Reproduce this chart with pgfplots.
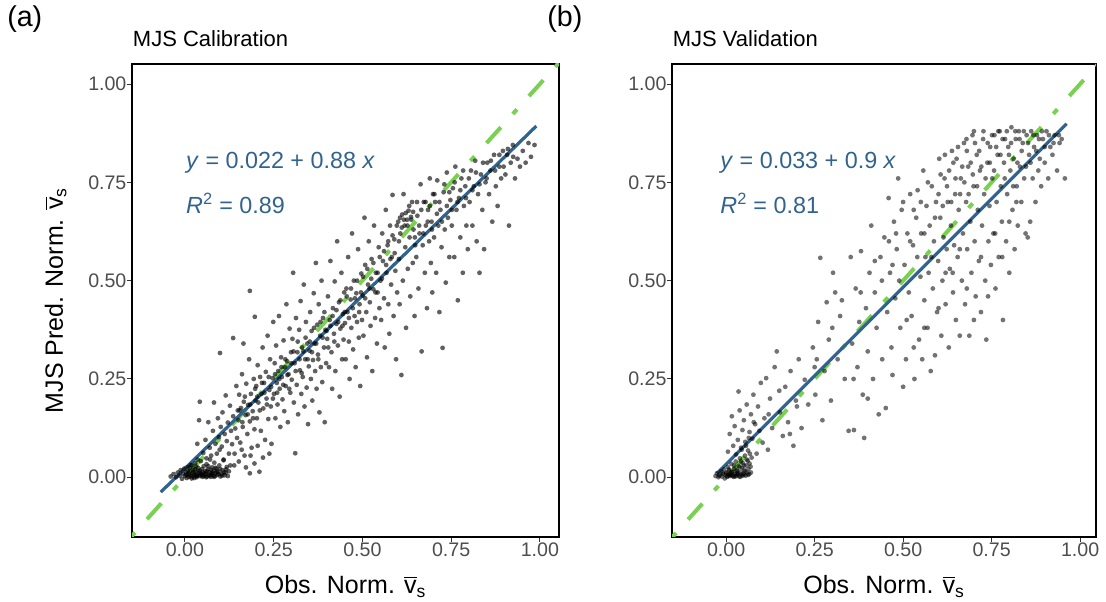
\documentclass[border=0pt]{standalone}
\usepackage{fontspec}
\setmainfont{Liberation Sans}
\usepackage{amsmath}
\usepackage{pgfplots}
\pgfplotsset{compat=1.18}
\usepackage{pgfplotstable}
\definecolor{fitblue}{HTML}{30638E}
\definecolor{refgreen}{HTML}{7AD151}
\definecolor{tickgray}{HTML}{4D4D4D}

\pgfplotstableread{
x y
-0.040 0.002
-0.032 0.008
-0.025 0.000
-0.020 0.012
-0.015 0.004
-0.012 0.018
-0.008 -0.004
-0.005 0.009
-0.002 0.022
0.000 0.003
0.003 0.013
0.005 -0.002
0.007 0.007
0.009 0.026
0.011 0.001
0.013 0.015
0.015 0.005
0.017 0.031
0.019 -0.003
0.021 0.010
0.023 0.019
0.025 0.002
0.027 0.008
0.029 0.036
0.031 0.014
0.033 0.000
0.035 0.006
0.037 0.024
0.039 0.011
0.041 0.003
0.043 0.017
0.045 0.041
0.047 0.007
0.049 0.001
0.051 0.012
0.053 0.028
0.055 0.004
0.057 0.016
0.059 0.009
0.061 0.033
0.063 0.002
0.065 0.020
0.067 0.006
0.069 0.013
0.071 0.045
0.073 0.001
0.075 0.010
0.077 0.025
0.079 0.005
0.081 0.016
0.083 0.037
0.085 0.003
0.087 0.011
0.089 0.022
0.091 0.006
0.094 0.014
0.097 0.030
0.100 0.002
0.103 0.009
0.106 0.018
0.109 0.043
0.112 0.005
0.115 0.012
0.118 0.026
0.121 0.003
0.124 0.015
0.030 0.004
0.045 0.010
0.060 0.000
0.075 0.007
0.004 0.006
0.012 0.009
0.018 0.002
0.024 0.013
0.028 0.020
0.034 0.003
0.038 0.016
0.044 0.006
0.048 0.021
0.052 0.003
0.056 0.010
0.062 0.015
0.066 0.028
0.070 0.004
0.074 0.019
0.078 0.012
0.082 0.001
0.086 0.024
0.090 0.014
0.095 0.008
0.099 0.021
0.105 0.004
0.110 0.012
0.116 0.020
0.008 0.016
0.014 0.024
0.020 0.030
0.026 -0.002
0.032 0.027
0.036 0.045
0.128 0.030
0.140 0.060
0.152 0.040
0.160 0.070
0.172 0.025
0.185 0.055
0.196 0.035
0.205 0.080
0.220 0.050
0.238 0.060
0.052 0.062
0.058 0.095
0.061 0.048
0.066 0.140
0.070 0.075
0.074 0.055
0.079 0.118
0.082 0.190
0.086 0.085
0.090 0.060
0.093 0.150
0.096 0.102
0.098 0.070
0.040 0.145
0.035 0.085
0.042 0.192
0.101 0.128
0.104 0.078
0.106 0.165
0.109 0.045
0.112 0.110
0.115 0.208
0.118 0.092
0.121 0.139
0.124 0.060
0.127 0.182
0.130 0.118
0.133 0.084
0.136 0.155
0.139 0.030
0.142 0.124
0.145 0.232
0.147 0.100
0.149 0.170
0.099 0.316
0.136 0.354
0.151 0.145
0.153 0.210
0.156 0.088
0.158 0.176
0.161 0.262
0.163 0.128
0.166 0.192
0.168 0.055
0.171 0.158
0.173 0.238
0.176 0.110
0.178 0.184
0.181 0.300
0.183 0.142
0.186 0.212
0.188 0.075
0.191 0.168
0.194 0.250
0.196 0.122
0.199 0.195
0.183 0.474
0.197 0.408
0.183 0.010
0.165 0.340
0.201 0.232
0.203 0.150
0.205 0.285
0.207 0.190
0.210 0.014
0.212 0.255
0.214 0.118
0.216 0.212
0.219 0.330
0.221 0.175
0.223 0.240
0.226 0.095
0.228 0.268
0.230 0.200
0.233 0.360
0.235 0.148
0.238 0.222
0.240 0.300
0.242 0.180
0.244 0.085
0.247 0.252
0.249 0.395
0.251 0.212
0.253 0.290
0.255 0.150
0.257 0.335
0.259 0.240
0.261 0.185
0.263 0.270
0.265 0.410
0.267 0.225
0.269 0.128
0.271 0.305
0.273 0.255
0.275 0.198
0.278 0.348
0.280 0.168
0.282 0.280
0.284 0.232
0.286 0.440
0.288 0.295
0.290 0.140
0.292 0.262
0.295 0.378
0.297 0.215
0.299 0.318
0.301 0.248
0.303 0.352
0.305 0.520
0.307 0.190
0.309 0.290
0.311 0.061
0.313 0.405
0.315 0.235
0.317 0.318
0.319 0.160
0.322 0.375
0.324 0.272
0.326 0.448
0.328 0.212
0.330 0.330
0.332 0.255
0.335 0.490
0.337 0.180
0.339 0.300
0.341 0.395
0.343 0.228
0.345 0.340
0.347 0.135
0.349 0.282
0.351 0.322
0.353 0.420
0.355 0.250
0.357 0.372
0.359 0.195
0.361 0.298
0.363 0.468
0.365 0.340
0.367 0.270
0.369 0.545
0.371 0.225
0.373 0.388
0.375 0.312
0.377 0.440
0.379 0.165
0.381 0.360
0.383 0.280
0.385 0.500
0.387 0.242
0.389 0.405
0.392 0.330
0.394 0.140
0.396 0.375
0.398 0.290
0.401 0.352
0.403 0.460
0.406 0.280
0.408 0.400
0.410 0.550
0.413 0.318
0.415 0.225
0.417 0.430
0.420 0.365
0.422 0.498
0.424 0.270
0.427 0.390
0.429 0.600
0.431 0.335
0.434 0.445
0.436 0.205
0.438 0.378
0.441 0.520
0.443 0.300
0.445 0.415
0.447 0.350
0.449 0.470
0.451 0.392
0.453 0.300
0.455 0.480
0.458 0.420
0.460 0.560
0.462 0.345
0.464 0.250
0.467 0.452
0.469 0.380
0.471 0.620
0.474 0.325
0.476 0.500
0.478 0.410
0.481 0.280
0.483 0.468
0.485 0.395
0.488 0.580
0.490 0.355
0.492 0.440
0.494 0.232
0.497 0.518
0.499 0.400
0.501 0.462
0.503 0.360
0.506 0.660
0.508 0.540
0.511 0.420
0.513 0.305
0.516 0.490
0.518 0.600
0.521 0.445
0.523 0.385
0.526 0.555
0.528 0.270
0.531 0.478
0.533 0.640
0.536 0.405
0.538 0.520
0.541 0.340
0.543 0.470
0.546 0.585
0.548 0.430
0.551 0.500
0.553 0.400
0.556 0.620
0.558 0.550
0.561 0.455
0.563 0.330
0.566 0.680
0.568 0.520
0.571 0.590
0.573 0.440
0.576 0.365
0.578 0.640
0.581 0.490
0.583 0.560
0.585 0.718
0.588 0.410
0.590 0.605
0.593 0.525
0.595 0.300
0.598 0.470
0.601 0.650
0.603 0.555
0.605 0.440
0.607 0.620
0.610 0.260
0.612 0.668
0.614 0.500
0.616 0.720
0.619 0.640
0.621 0.585
0.623 0.380
0.626 0.655
0.628 0.530
0.630 0.678
0.633 0.610
0.635 0.460
0.637 0.662
0.640 0.700
0.642 0.545
0.644 0.630
0.647 0.410
0.649 0.590
0.652 0.560
0.655 0.665
0.658 0.480
0.661 0.620
0.664 0.745
0.667 0.320
0.670 0.590
0.673 0.700
0.676 0.520
0.679 0.640
0.682 0.430
0.685 0.680
0.688 0.600
0.690 0.760
0.693 0.545
0.695 0.650
0.697 0.470
0.699 0.720
0.702 0.610
0.705 0.700
0.708 0.520
0.711 0.755
0.714 0.640
0.717 0.420
0.720 0.680
0.723 0.585
0.726 0.329
0.729 0.725
0.732 0.630
0.735 0.495
0.738 0.775
0.741 0.660
0.745 0.560
0.748 0.705
0.752 0.640
0.755 0.735
0.759 0.560
0.762 0.790
0.765 0.680
0.769 0.450
0.772 0.710
0.776 0.610
0.779 0.760
0.783 0.520
0.786 0.690
0.790 0.740
0.793 0.640
0.797 0.580
0.802 0.700
0.806 0.780
0.810 0.640
0.814 0.740
0.818 0.805
0.822 0.600
0.826 0.720
0.830 0.520
0.834 0.770
0.838 0.680
0.843 0.580
0.847 0.750
0.852 0.800
0.857 0.720
0.861 0.780
0.866 0.650
0.871 0.820
0.876 0.740
0.881 0.690
0.886 0.790
0.891 0.760
0.896 0.830
0.903 0.770
0.908 0.820
0.913 0.640
0.918 0.800
0.924 0.845
0.930 0.760
0.937 0.810
0.944 0.790
0.952 0.830
0.960 0.800
0.968 0.850
0.975 0.815
0.985 0.845
0.154 0.170
0.162 0.140
0.169 0.205
0.177 0.160
0.184 0.185
0.192 0.150
0.198 0.225
0.204 0.205
0.211 0.170
0.217 0.240
0.224 0.215
0.231 0.185
0.236 0.255
0.243 0.230
0.248 0.200
0.254 0.262
0.260 0.215
0.266 0.250
0.272 0.280
0.277 0.235
0.283 0.300
0.289 0.260
0.294 0.225
0.300 0.290
0.306 0.320
0.312 0.270
0.318 0.345
0.323 0.300
0.329 0.265
0.334 0.320
0.340 0.355
0.346 0.300
0.352 0.345
0.358 0.318
0.364 0.380
0.370 0.340
0.376 0.300
0.382 0.395
0.388 0.355
0.393 0.420
0.399 0.372
0.404 0.330
0.410 0.385
0.416 0.410
0.421 0.345
0.427 0.425
0.432 0.395
0.438 0.450
0.444 0.385
0.450 0.420
0.456 0.460
0.462 0.405
0.468 0.480
0.473 0.430
0.479 0.455
0.485 0.500
0.491 0.420
0.496 0.470
0.502 0.510
0.508 0.455
0.514 0.530
0.520 0.480
0.525 0.505
0.531 0.545
0.537 0.470
0.543 0.520
0.549 0.560
0.555 0.505
0.561 0.575
0.567 0.540
0.573 0.600
0.579 0.555
0.585 0.615
0.591 0.570
0.597 0.640
0.603 0.600
0.606 0.660
0.611 0.635
0.617 0.655
0.622 0.672
0.627 0.640
0.632 0.690
0.638 0.655
0.643 0.675
0.648 0.610
0.654 0.700
0.660 0.640
0.666 0.680
0.672 0.620
0.678 0.700
0.684 0.650
0.690 0.690
0.696 0.630
0.703 0.720
0.710 0.670
0.717 0.700
0.724 0.650
0.731 0.745
0.738 0.690
0.745 0.725
0.752 0.680
0.760 0.750
0.768 0.700
0.776 0.730
0.784 0.780
0.792 0.710
0.800 0.760
0.810 0.730
0.820 0.775
0.830 0.745
0.840 0.800
0.850 0.760
0.862 0.805
0.874 0.780
0.886 0.820
0.898 0.790
0.910 0.835
0.925 0.815
}\calA

\pgfplotstableread{
x y
-0.030 0.003
-0.026 0.010
-0.022 0.000
-0.018 0.006
-0.015 0.015
-0.012 0.002
-0.009 0.008
-0.006 0.020
-0.004 -0.003
-0.001 0.005
0.001 0.012
0.003 0.001
0.005 0.026
0.007 0.007
0.009 0.017
0.011 0.003
0.013 0.010
0.015 0.034
0.017 0.005
0.019 0.014
0.021 0.001
0.023 0.022
0.025 0.008
0.027 0.040
0.029 0.004
0.031 0.016
0.033 0.011
0.035 0.029
0.037 0.002
0.039 0.048
0.041 0.013
0.043 0.007
0.045 0.024
0.047 0.036
0.049 0.009
0.051 0.018
0.053 0.055
0.055 0.004
0.057 0.030
0.059 0.012
0.061 0.042
0.063 0.021
0.065 0.008
0.067 0.060
0.069 0.027
0.010 0.006
0.020 0.003
0.030 0.009
0.040 0.001
0.050 0.006
0.000 0.010
0.004 0.003
0.008 0.020
0.012 0.006
0.016 0.013
0.022 0.030
0.026 0.002
0.030 0.018
0.034 0.007
0.038 0.025
0.042 0.040
0.046 0.004
0.050 0.030
0.054 0.015
0.058 0.045
0.062 0.006
0.066 0.035
0.070 0.012
0.072 0.050
-0.010 0.012
-0.020 0.004
0.044 0.070
0.056 0.080
0.064 0.100
0.078 0.140
0.005 0.065
0.010 0.110
0.016 0.155
0.020 0.080
0.024 0.130
0.028 0.058
0.033 0.095
0.035 0.218
0.038 0.170
0.042 0.075
0.046 0.120
0.050 0.145
0.054 0.090
0.058 0.185
0.062 0.068
0.066 0.115
0.070 0.160
0.074 0.098
0.077 0.210
0.082 0.135
0.086 0.060
0.090 0.180
0.094 0.118
0.098 0.240
0.103 0.088
0.108 0.150
0.113 0.252
0.118 0.070
0.124 0.200
0.130 0.125
0.137 0.280
0.143 0.320
0.152 0.165
0.160 0.105
0.167 0.230
0.175 0.140
0.182 0.270
0.190 0.080
0.197 0.195
0.205 0.300
0.213 0.125
0.222 0.248
0.232 0.185
0.245 0.330
0.252 0.210
0.256 0.300
0.260 0.395
0.266 0.558
0.272 0.145
0.278 0.270
0.284 0.445
0.290 0.350
0.296 0.195
0.302 0.520
0.308 0.470
0.315 0.300
0.322 0.410
0.327 0.450
0.335 0.250
0.346 0.118
0.352 0.560
0.356 0.340
0.361 0.120
0.366 0.480
0.371 0.280
0.376 0.395
0.381 0.575
0.386 0.210
0.390 0.100
0.395 0.430
0.400 0.320
0.405 0.520
0.410 0.640
0.415 0.250
0.420 0.470
0.425 0.380
0.431 0.160
0.436 0.560
0.441 0.300
0.447 0.610
0.451 0.176
0.455 0.420
0.459 0.710
0.463 0.520
0.467 0.330
0.470 0.260
0.474 0.650
0.478 0.455
0.482 0.580
0.486 0.760
0.489 0.500
0.492 0.380
0.496 0.680
0.500 0.230
0.504 0.540
0.508 0.300
0.512 0.620
0.516 0.470
0.520 0.720
0.524 0.410
0.528 0.590
0.532 0.250
0.537 0.660
0.541 0.730
0.545 0.350
0.549 0.510
0.551 0.620
0.554 0.300
0.557 0.780
0.560 0.450
0.563 0.560
0.566 0.690
0.569 0.380
0.572 0.520
0.575 0.640
0.578 0.270
0.581 0.740
0.584 0.480
0.587 0.600
0.590 0.310
0.593 0.700
0.596 0.420
0.599 0.550
0.602 0.810
0.605 0.660
0.608 0.360
0.611 0.500
0.614 0.610
0.617 0.760
0.620 0.440
0.623 0.580
0.626 0.700
0.629 0.330
0.632 0.530
0.635 0.640
0.638 0.830
0.641 0.470
0.644 0.590
0.647 0.720
0.649 0.400
0.651 0.810
0.654 0.560
0.657 0.680
0.660 0.360
0.663 0.760
0.666 0.500
0.669 0.620
0.672 0.850
0.675 0.440
0.678 0.700
0.681 0.580
0.684 0.790
0.687 0.360
0.690 0.650
0.693 0.520
0.696 0.870
0.699 0.740
0.702 0.600
0.705 0.460
0.708 0.820
0.711 0.680
0.714 0.550
0.717 0.780
0.720 0.420
0.723 0.640
0.726 0.860
0.729 0.720
0.732 0.500
0.735 0.350
0.738 0.800
0.741 0.600
0.744 0.690
0.746 0.840
0.748 0.540
0.700 0.880
0.680 0.830
0.752 0.760
0.755 0.620
0.758 0.870
0.761 0.480
0.764 0.700
0.767 0.820
0.770 0.560
0.773 0.880
0.776 0.740
0.779 0.650
0.782 0.400
0.785 0.800
0.788 0.860
0.791 0.600
0.794 0.720
0.797 0.840
0.800 0.520
0.803 0.780
0.806 0.890
0.809 0.680
0.812 0.810
0.815 0.580
0.818 0.860
0.821 0.740
0.824 0.640
0.827 0.880
0.830 0.790
0.834 0.700
0.838 0.850
0.842 0.760
0.846 0.620
0.849 0.870
0.852 0.610
0.856 0.820
0.859 0.650
0.862 0.880
0.866 0.760
0.870 0.840
0.874 0.700
0.878 0.870
0.882 0.780
0.886 0.810
0.890 0.740
0.895 0.860
0.900 0.800
0.905 0.880
0.910 0.760
0.916 0.840
0.922 0.820
0.928 0.870
0.935 0.780
0.942 0.850
0.948 0.860
0.957 0.760
0.600 0.720
0.606 0.770
0.612 0.690
0.618 0.820
0.624 0.740
0.630 0.780
0.636 0.700
0.642 0.800
0.648 0.760
0.655 0.840
0.661 0.720
0.667 0.790
0.673 0.750
0.679 0.860
0.685 0.720
0.691 0.800
0.697 0.770
0.703 0.850
0.709 0.740
0.715 0.830
0.721 0.790
0.727 0.880
0.733 0.760
0.739 0.850
0.745 0.800
0.751 0.870
0.757 0.780
0.763 0.840
0.769 0.880
0.775 0.820
0.781 0.860
0.787 0.760
0.793 0.880
0.799 0.820
0.805 0.850
0.811 0.740
0.817 0.880
0.823 0.800
0.829 0.860
0.835 0.830
0.841 0.880
0.847 0.790
0.853 0.850
0.860 0.800
0.868 0.870
0.876 0.830
0.884 0.860
0.892 0.880
0.900 0.840
0.912 0.870
0.925 0.850
0.940 0.870
0.520 0.600
0.530 0.680
0.540 0.560
0.550 0.700
0.560 0.620
0.570 0.750
0.580 0.560
0.590 0.660
0.500 0.700
0.480 0.620
0.460 0.600
0.440 0.500
0.470 0.540
0.510 0.400
0.530 0.330
0.560 0.380
0.600 0.430
0.640 0.520
0.680 0.480
0.720 0.560
0.700 0.400
0.760 0.620
0.780 0.560
0.800 0.650
0.820 0.700
0.740 0.460
0.660 0.580
0.620 0.520
0.360 0.250
0.300 0.380
0.250 0.280
0.200 0.180
0.120 0.160
0.150 0.220
0.180 0.110
0.400 0.200
0.420 0.550
0.380 0.470
}\calB

\newcommand{\vbar}{$\overline{\text{v}}_{\text{s}}$}

\pgfplotsset{
  panel/.style={
    scale only axis,
    height=354.75pt,
    ymin=-0.152, ymax=1.051,
    xtick={0,0.25,0.5,0.75,1},
    ytick={0,0.25,0.5,0.75,1},
    xticklabels={0.00,0.25,0.50,0.75,1.00},
    yticklabels={0.00,0.25,0.50,0.75,1.00},
    tick align=outside,
    major tick length=4pt,
    xtick pos=left, ytick pos=left,
    tick style={color=black!80, line width=0.8pt},
    axis line style={line width=1.6pt},
    ticklabel style={font=\fontsize{14.7}{16}\selectfont, text=tickgray},
    xticklabel style={inner sep=0pt, anchor=north},
    yticklabel style={inner sep=0pt, anchor=east},
    label style={font=\fontsize{18.75}{22}\selectfont},
    xlabel style={at={(axis description cs:0.5,-0.1205)}, anchor=base},
    clip=true,
  },
  pts/.style={only marks, mark=*, mark size=1.8pt,
    mark options={fill=black, fill opacity=#1, draw opacity=0}},
  refline/.style={refgreen, line width=3pt,
    dash pattern=on 4.5pt off 13.5pt on 16pt off 13.5pt},
  fitline/.style={fitblue, line width=2.4pt},
}

\begin{document}
\begin{tikzpicture}
\useasboundingbox (-99pt,-48.75pt) rectangle (730.5pt,402.75pt);

\begin{axis}[panel, at={(0pt,0pt)}, anchor=south west,
  width=320.25pt, xmin=-0.149, xmax=1.054,
  xlabel={Obs. Norm. \vbar},
  ylabel={MJS Pred. Norm. \vbar},
  ylabel style={at={(axis description cs:-0.1616,0.5)}, anchor=base, rotate=0},
]
\addplot[refline] coordinates {(-0.152,-0.152) (1.06,1.06)};
\addplot[pts=0.62] table {\calA};
\addplot[fitline] coordinates {(-0.068,-0.0378) (0.99,0.8932)};
\node[anchor=base west, inner sep=0pt, text=fitblue, font=\fontsize{17.5}{20}\selectfont]
  at (axis cs:0.003,0.784) {\textit{y} = 0.022 + 0.88 \textit{x}};
\node[anchor=base west, inner sep=0pt, text=fitblue, font=\fontsize{17.5}{20}\selectfont]
  at (axis cs:0.003,0.672) {\textit{R}\textsuperscript{2} = 0.89};
\end{axis}

\begin{axis}[panel, at={(405pt,0pt)}, anchor=south west,
  width=318pt, xmin=-0.153, xmax=1.045,
  xlabel={Obs. Norm. \vbar},
]
\addplot[refline] coordinates {(-0.153,-0.153) (1.06,1.06)};
\addplot[pts=0.55] table {\calB};
\addplot[fitline] coordinates {(-0.026,0.0096) (0.962,0.8988)};
\node[anchor=base west, inner sep=0pt, text=fitblue, font=\fontsize{17.5}{20}\selectfont]
  at (axis cs:-0.017,0.786) {\textit{y} = 0.033 + 0.9 \textit{x}};
\node[anchor=base west, inner sep=0pt, text=fitblue, font=\fontsize{17.5}{20}\selectfont]
  at (axis cs:-0.017,0.672) {\textit{R}\textsuperscript{2} = 0.81};
\end{axis}

\node[anchor=base west, inner sep=0pt, font=\fontsize{21.5}{24}\selectfont] at (-93.75pt,382.5pt) {(a)};
\node[anchor=base west, inner sep=0pt, font=\fontsize{21.5}{24}\selectfont] at (311.25pt,382.5pt) {(b)};
\node[anchor=base west, inner sep=0pt, font=\fontsize{16.5}{19}\selectfont] at (0.5pt,367.7pt) {MJS Calibration};
\node[anchor=base west, inner sep=0pt, font=\fontsize{16.5}{19}\selectfont] at (405.4pt,367.7pt) {MJS Validation};
\end{tikzpicture}
\end{document}
